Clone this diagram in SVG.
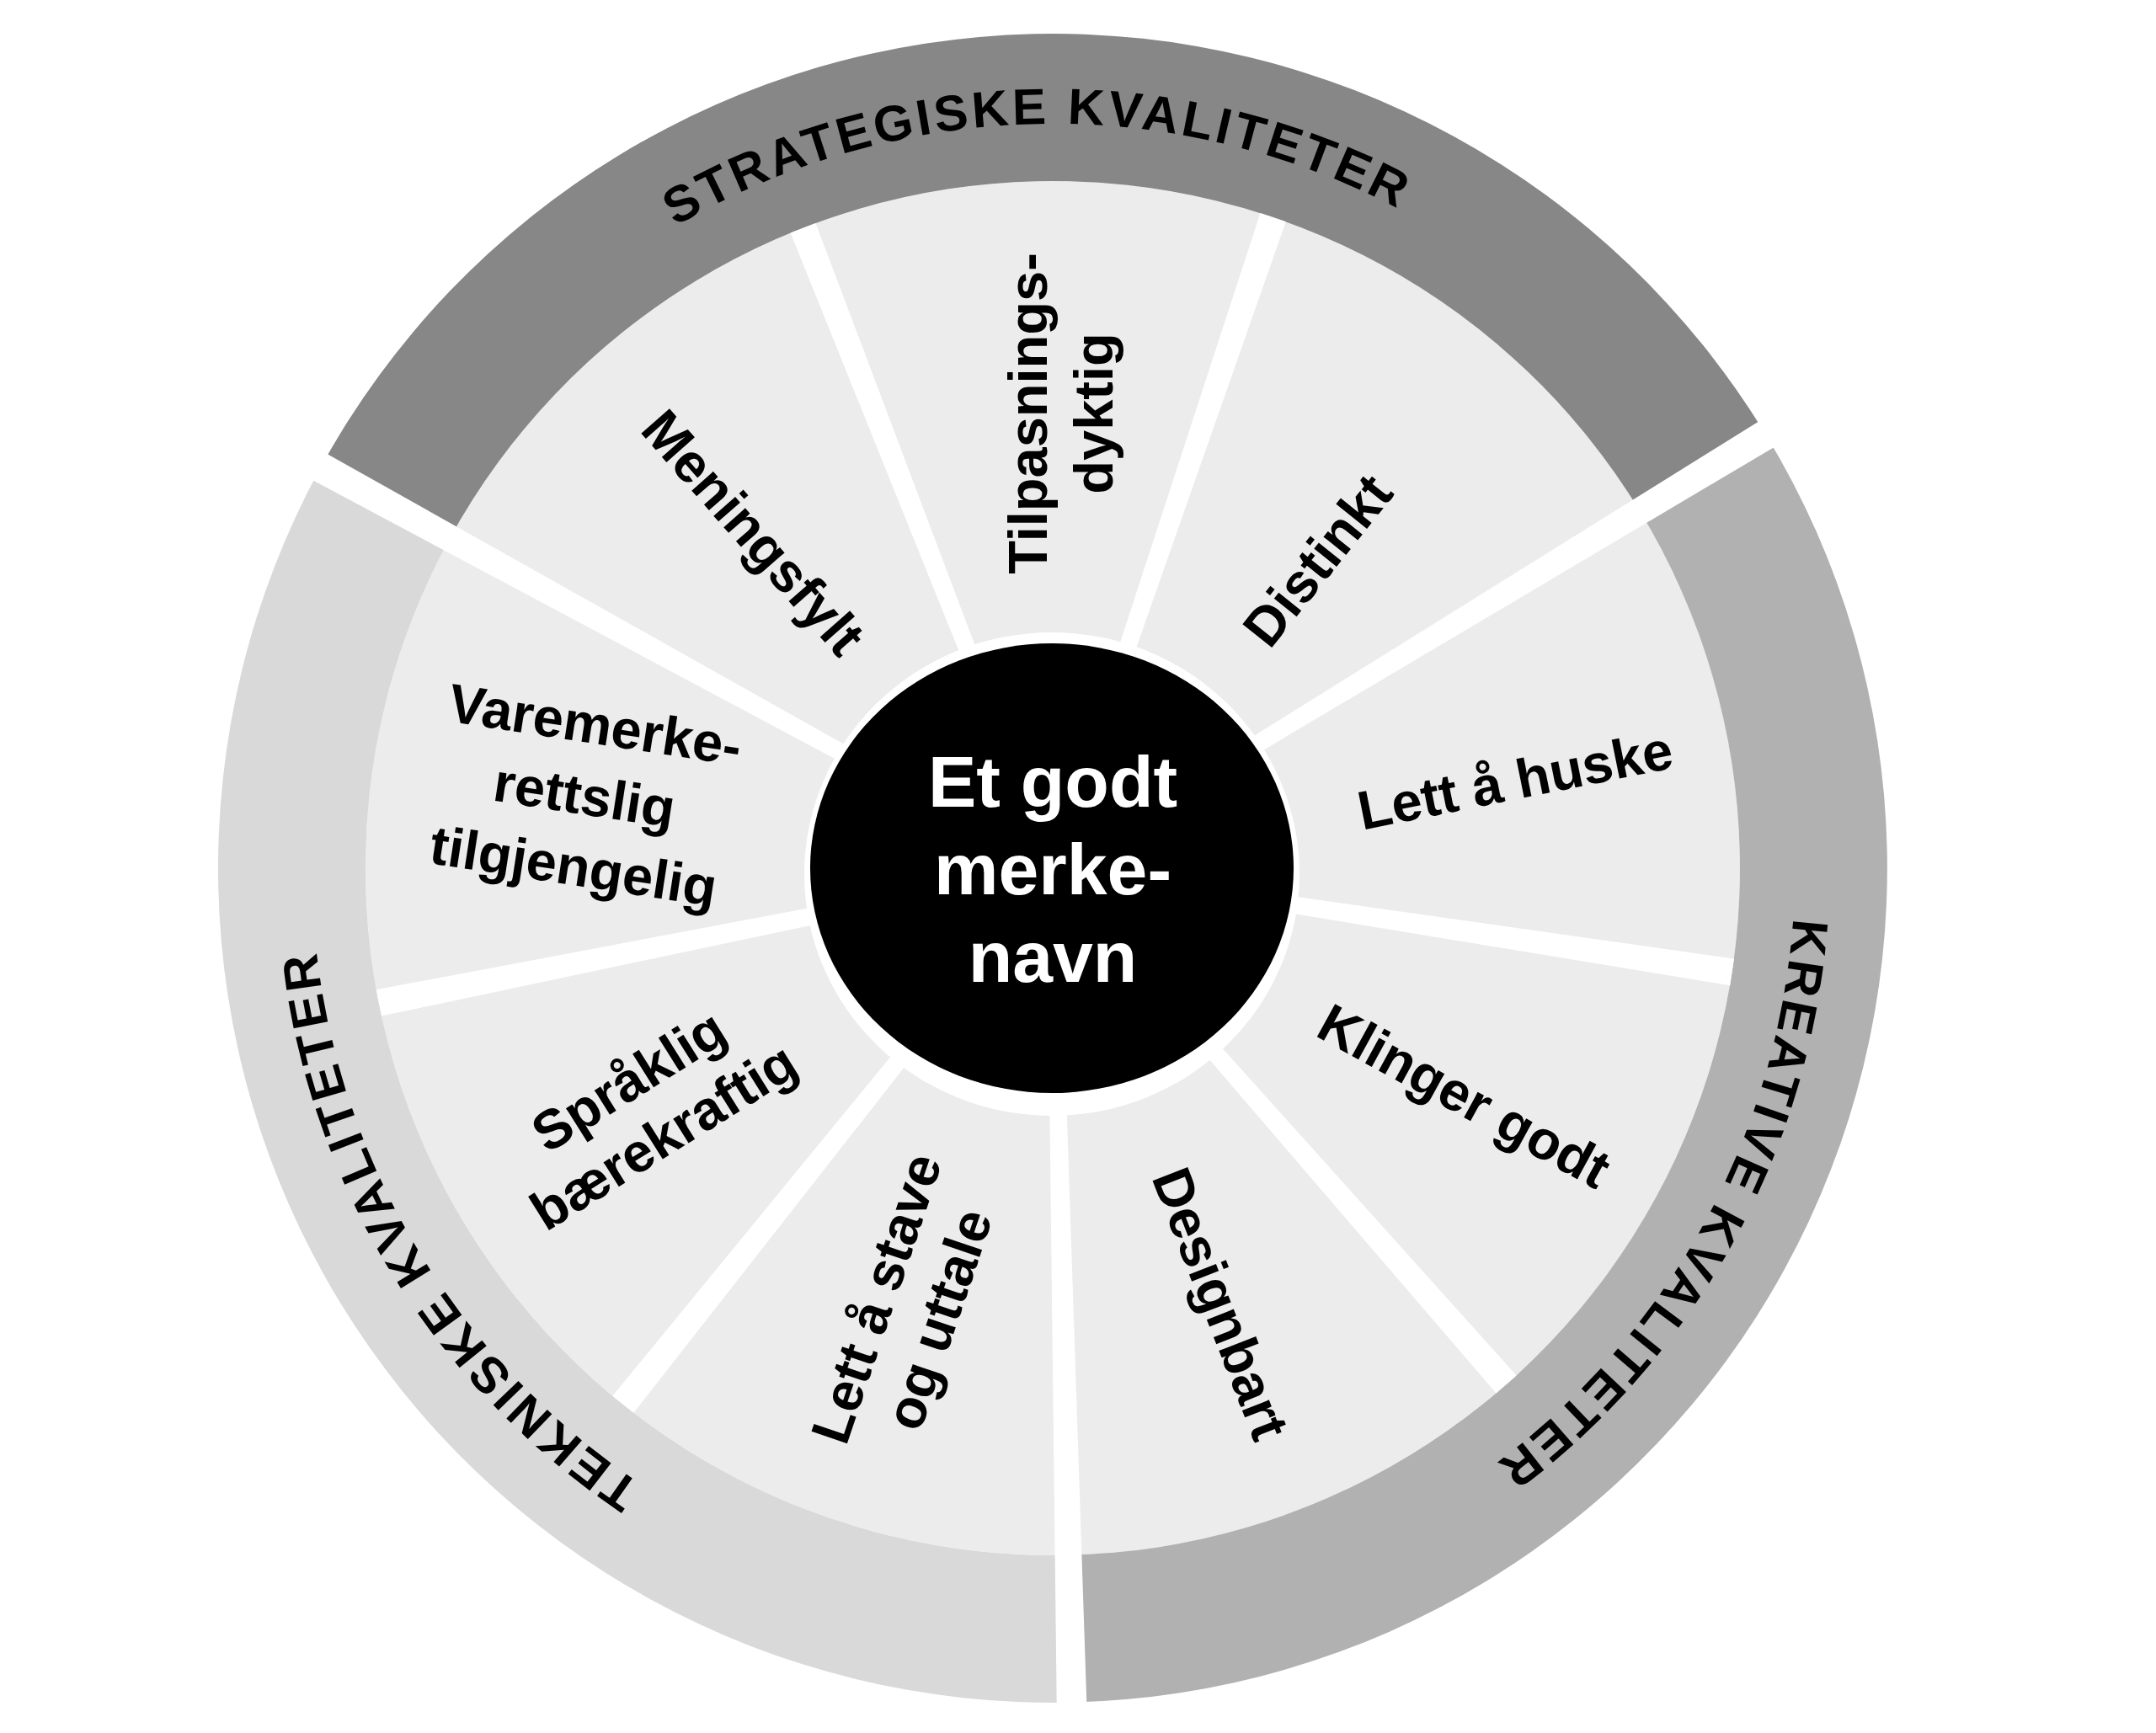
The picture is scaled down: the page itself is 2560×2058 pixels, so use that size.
<svg xmlns="http://www.w3.org/2000/svg" xmlns:xlink="http://www.w3.org/1999/xlink" width="2560" height="2058" viewBox="0 0 2560 2058">
<style>
.seg{fill:#ececec}
.lbl{font-family:"Liberation Sans",Arial,Helvetica,sans-serif;font-weight:bold;font-size:65px;fill:#000;text-anchor:middle}
.band{font-family:"Liberation Sans",Arial,Helvetica,sans-serif;font-weight:bold;font-size:60px;letter-spacing:4px;fill:#000;text-anchor:middle}
.ctr{font-family:"Liberation Sans",Arial,Helvetica,sans-serif;font-weight:bold;font-size:86px;fill:#fff;text-anchor:middle}
</style>
<defs>
<polygon id="sep" points="1243,1031 1257,1031 1266,215 1234,215" fill="#fff"/>
<polygon id="gap" points="1243,1031 1257,1031 1268,21 1232,21" fill="#fff"/>
<path id="arcS" d="M 366.2,1051.1 A 884 884 0 0 1 2133.8,1010.9"/>
<path id="arcK" d="M 1674.5,255.6 A 884 884 0 0 1 825.5,1806.4"/>
<path id="arcT" d="M 1709.3,1786.3 A 884 884 0 0 1 790.7,275.7"/>
</defs>
<rect width="2560" height="2058" fill="#fff"/>

<g id="seg-meningsfylt">
<path class="seg" d="M 1250,1031 L 534.2,639.1 A 816 816 0 0 1 953.6,270.7 Z"/>
<text class="lbl" transform="translate(895,632) rotate(48.7)" y="23">Meningsfylt</text>
</g>
<g id="seg-tilpasningsdyktig">
<path class="seg" d="M 1250,1031 L 953.6,270.7 A 816 816 0 0 1 1511.7,258.1 Z"/>
<text class="lbl" transform="translate(1259,491) rotate(-90)"><tspan x="0" y="-16">Tilpasnings-</tspan><tspan x="0" y="62">dyktig</tspan></text>
</g>
<g id="seg-distinkt">
<path class="seg" d="M 1250,1031 L 1511.7,258.1 A 816 816 0 0 1 1947.2,607.1 Z"/>
<text class="lbl" transform="translate(1564,665) rotate(-51.3)" y="23">Distinkt</text>
</g>
<g id="seg-lett-aa-huske">
<path class="seg" d="M 1250,1031 L 1947.2,607.1 A 816 816 0 0 1 2056.6,1154.4 Z"/>
<text class="lbl" transform="translate(1799,926) rotate(-11.3)" y="23">Lett å huske</text>
</g>
<g id="seg-klinger-godt">
<path class="seg" d="M 1250,1031 L 2056.6,1154.4 A 816 816 0 0 1 1788.7,1644.0 Z"/>
<text class="lbl" transform="translate(1739,1301) rotate(28.7)" y="23">Klinger godt</text>
</g>
<g id="seg-designbart">
<path class="seg" d="M 1250,1031 L 1788.7,1644.0 A 816 816 0 0 1 1268.5,1846.8 Z"/>
<text class="lbl" transform="translate(1450,1548) rotate(68.7)" y="23">Designbart</text>
</g>
<g id="seg-lett-aa-stave">
<path class="seg" d="M 1250,1031 L 1268.5,1846.8 A 816 816 0 0 1 739.8,1667.8 Z"/>
<text class="lbl" transform="translate(1077,1554) rotate(-71.3)"><tspan x="0" y="-16">Lett å stave</tspan><tspan x="0" y="62">og uttale</tspan></text>
</g>
<g id="seg-spraaklig">
<path class="seg" d="M 1250,1031 L 739.8,1667.8 A 816 816 0 0 1 449.8,1190.9 Z"/>
<text class="lbl" transform="translate(767,1316) rotate(-32)"><tspan x="0" y="-16">Språklig</tspan><tspan x="0" y="62">bærekraftig</tspan></text>
</g>
<g id="seg-varemerke">
<path class="seg" d="M 1250,1031 L 449.8,1190.9 A 816 816 0 0 1 534.2,639.1 Z"/>
<text class="lbl" transform="translate(694,944) rotate(8.7)"><tspan x="0" y="-62">Varemerke-</tspan><tspan x="0" y="23">rettslig</tspan><tspan x="0" y="108">tilgjengelig</tspan></text>
</g>

<g id="band-strategiske">
<path d="M 380.7,555.1 A 991 991 0 0 1 2096.7,516.2 L 1947.2,607.1 A 816 816 0 0 0 534.2,639.1 Z" fill="#878787"/>
<text class="band"><textPath href="#arcS" startOffset="50%">STRATEGISKE KVALITETER</textPath></text>
</g>
<g id="band-kreative">
<path d="M 2096.7,516.2 A 991 991 0 0 1 1272.5,2021.7 L 1268.5,1846.8 A 816 816 0 0 0 1947.2,607.1 Z" fill="#b1b1b1"/>
<text class="band"><textPath href="#arcK" startOffset="50%">KREATIVE KVALITETER</textPath></text>
</g>
<g id="band-tekniske">
<path d="M 1272.5,2021.7 A 991 991 0 0 1 380.7,555.1 L 534.2,639.1 A 816 816 0 0 0 1268.5,1846.8 Z" fill="#d9d9d9"/>
<text class="band"><textPath href="#arcT" startOffset="50%">TEKNISKE KVALITETER</textPath></text>
</g>

<g id="separators">
<use href="#sep" transform="rotate(-21.3 1250 1031)"/>
<use href="#sep" transform="rotate(18.7 1250 1031)"/>
<use href="#gap" transform="rotate(58.7 1250 1031)"/>
<use href="#sep" transform="rotate(98.7 1250 1031)"/>
<use href="#sep" transform="rotate(138.7 1250 1031)"/>
<use href="#gap" transform="rotate(178.7 1250 1031)"/>
<use href="#sep" transform="rotate(218.7 1250 1031)"/>
<use href="#sep" transform="rotate(258.7 1250 1031)"/>
<use href="#gap" transform="rotate(298.7 1250 1031)"/>
</g>

<g id="center">
<ellipse cx="1249" cy="1038" rx="294" ry="287" fill="#fff"/>
<ellipse cx="1249" cy="1031" rx="287" ry="267" fill="#000"/>
<text class="ctr"><tspan x="1250" y="958">Et godt</tspan><tspan x="1250" y="1062">merke-</tspan><tspan x="1250" y="1166">navn</tspan></text>
</g>
</svg>
